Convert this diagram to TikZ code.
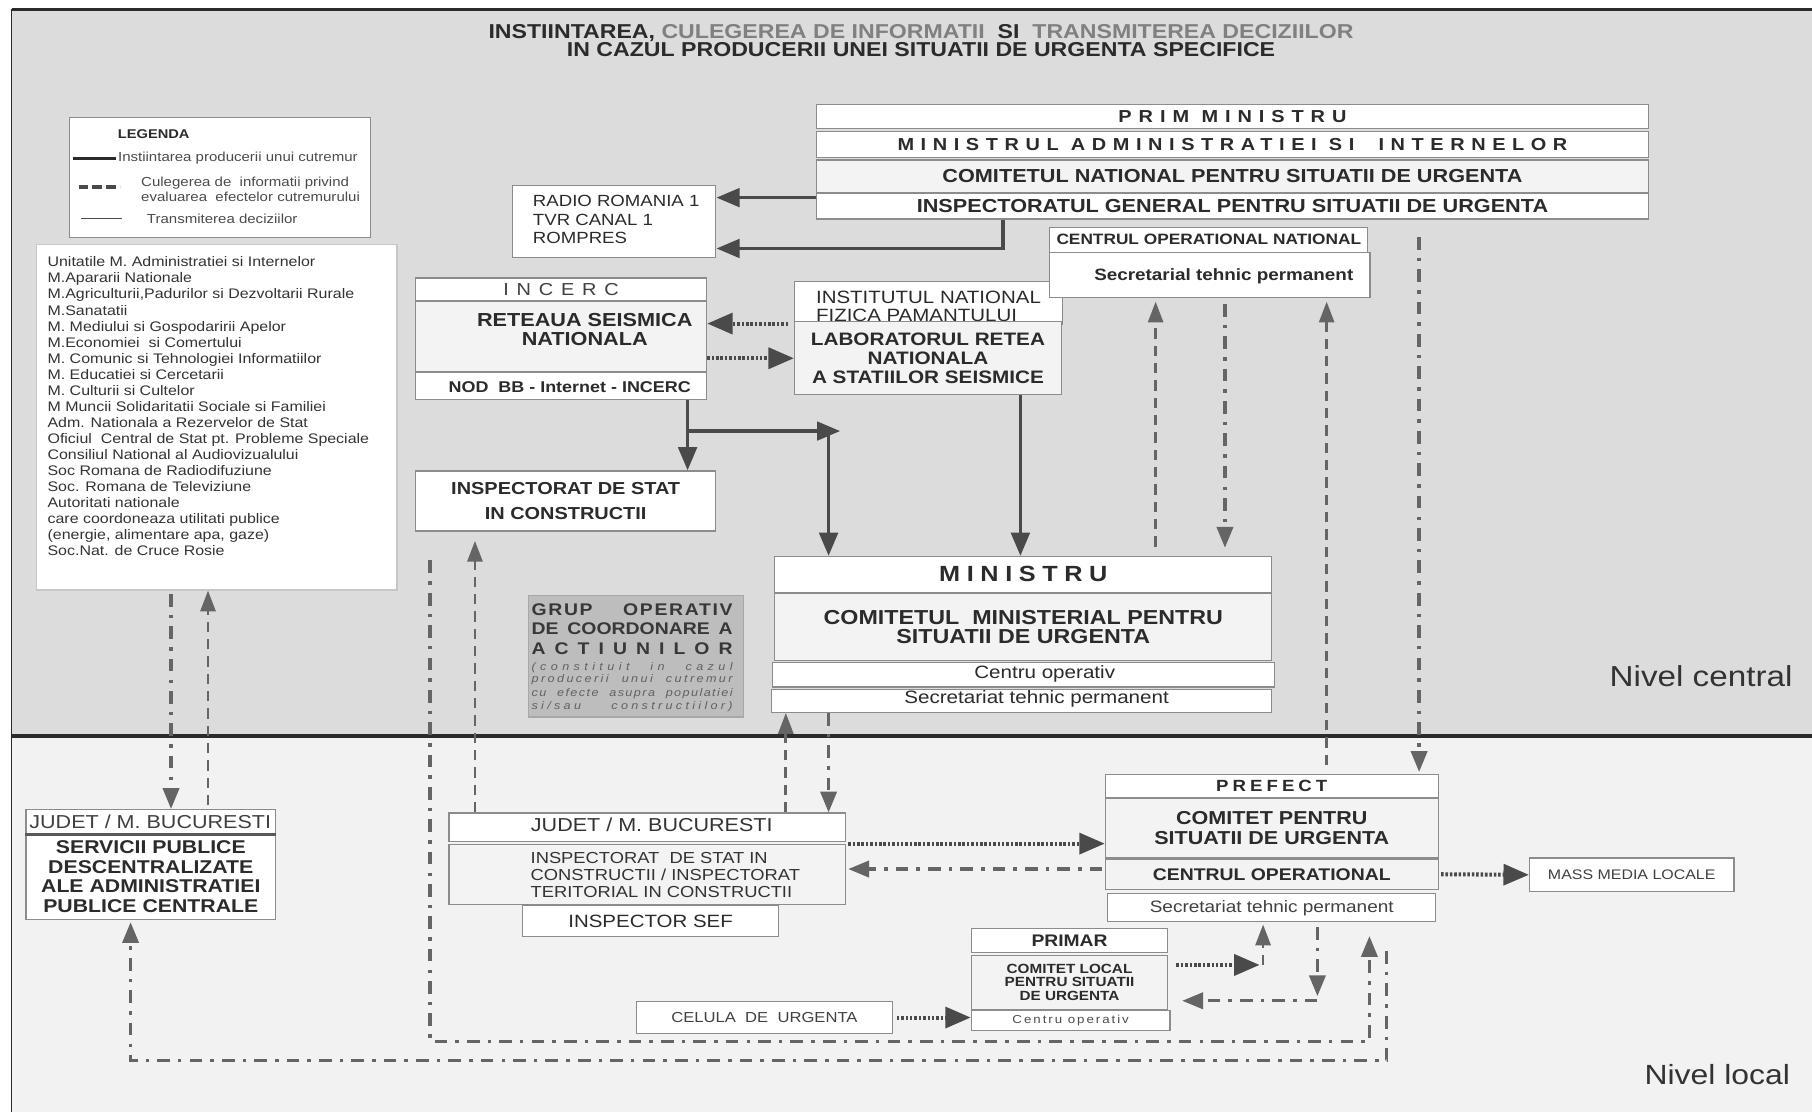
\documentclass[tikz,border=0pt]{standalone}
\usepackage{fontspec}
\setmainfont{Liberation Sans}[FakeStretch=1.15]
\usetikzlibrary{arrows.meta,calc}
\definecolor{bgtop}{HTML}{DCDCDC}
\definecolor{bgbot}{HTML}{F2F2F2}
\definecolor{txt}{HTML}{2B2B2B}
\definecolor{txtgray}{HTML}{808080}
\definecolor{bord}{HTML}{8C8C8C}
\definecolor{lightfill}{HTML}{F3F3F3}
\definecolor{arr}{HTML}{4A4A4A}
\definecolor{grupfill}{HTML}{BDBDBD}
\definecolor{grupbord}{HTML}{A8A8A8}
\newcommand{\fsz}[2]{\fontsize{#1}{#2}\selectfont}
\newcommand{\lspc}[1]{\addfontfeature{LetterSpace=#1}}
\begin{document}
\begin{tikzpicture}[x=1pt,y=-1pt,
  cell/.style={draw=bord, line width=1pt, fill=white, inner sep=0pt, anchor=north west, text=txt},
  lcell/.style={cell, fill=lightfill},
  sz/.style 2 args={minimum width=#1pt, minimum height=#2pt},
  txtnode/.style={inner sep=0pt, text=txt},
  solidarr/.style={draw=arr, line width=3pt, -{Triangle[length=20pt,width=16pt]}},
  dasharr/.style={draw=arr!85, line width=2.4pt, dash pattern=on 9pt off 6pt, -{Triangle[length=18pt,width=13pt]}},
  ddarr/.style={draw=arr!85, line width=2.8pt, dash pattern=on 11pt off 7pt on 3pt off 7pt, -{Triangle[length=18pt,width=14pt]}},
  dotarr/.style={draw=arr, line width=3.5pt, dash pattern=on 2.2pt off 1.6pt, -{Triangle[length=22pt,width=18pt]}}
]
\useasboundingbox (0,0) rectangle (1568,962);
\fill[white] (0,0) rectangle (1568,962);
% panels
\fill[bgtop] (10,8) rectangle (1568,637);
\fill[bgbot] (10,637) rectangle (1568,962);
\draw[line width=2.5pt, txt] (10,8) -- (1568,8);
\draw[line width=1.5pt, txt] (10,8) -- (10,962);
\draw[line width=3pt, txt] (10,637) -- (1568,637);

% coordinates
\path (113,0) coordinate (X113) (148,0) coordinate (X148) (180,0) coordinate (X180)
      (372,0) coordinate (X372) (411,0) coordinate (X411) (595,0) coordinate (X595)
      (680,0) coordinate (X680) (717,0) coordinate (X717) (727,0) coordinate (X727)
      (868,0) coordinate (X868) (883,0) coordinate (X883) (1000,0) coordinate (X1000)
      (1060,0) coordinate (X1060) (1090,0) coordinate (X1090) (1093,0) coordinate (X1093)
      (1140,0) coordinate (X1140) (1148,0) coordinate (X1148) (1185,0) coordinate (X1185)
      (1200,0) coordinate (X1200) (1228,0) coordinate (X1228);
\path (0,171) coordinate (Y171) (0,215) coordinate (Y215) (0,280) coordinate (Y280)
      (0,310) coordinate (Y310) (0,373) coordinate (Y373) (0,752) coordinate (Y752)
      (0,835) coordinate (Y835) (0,862) coordinate (Y862) (0,866) coordinate (Y866)
      (0,901) coordinate (Y901) (0,918) coordinate (Y918);

% title
\node[txtnode, font=\bfseries\fsz{17.4}{16}, align=center] (title) at (797,35)
  {INSTIINTAREA, \textcolor{txtgray}{CULEGEREA DE INFORMATII}\ \ SI\ \ \textcolor{txtgray}{TRANSMITEREA DECIZIILOR}\\IN CAZUL PRODUCERII UNEI SITUATII DE URGENTA SPECIFICE};

% legend
\node[cell, sz={260}{104}] (leg) at (60,101) {};
\node[txtnode, font=\bfseries\fsz{11}{13}] (legt) at (133,116) {LEGENDA};
\begin{scope}
\clip (leg.south west) rectangle (leg.north east);
\draw[line width=3pt, txt] (63,137) -- (100,137);
\node[txtnode, anchor=west, font=\fsz{11.3}{13}, text=txt!85] (leg1) at (102,137) {Instiintarea producerii unui cutremur};
\draw[line width=3pt, arr, dash pattern=on 8pt off 4pt] (68,162) -- (104,162);
\node[txtnode, anchor=west, align=left, font=\fsz{11.3}{12.5}, text=txt!85] (leg2) at (122,164) {Culegerea de\ \ informatii privind\\evaluarea\ \ efectelor cutremurului};
\draw[line width=1.2pt, arr] (70,189) -- (106,189);
\node[txtnode, anchor=west, font=\fsz{11.3}{13}, text=txt!85] (leg3) at (127,189) {Transmiterea deciziilor};
\end{scope}

% left list
\node[cell, draw=black!22, sz={312}{299}] (list) at (31,211) {};
\node[txtnode, anchor=north west, align=left, font=\fsz{12}{13.9}, text=black!80] (listt) at (41,222)
 {Unitatile M. Administratiei si Internelor\\
  M.Apararii Nationale\\
  M.Agriculturii,Padurilor si Dezvoltarii Rurale\\
  M.Sanatatii\\
  M. Mediului si Gospodaririi Apelor\\
  M.Economiei\ \ si Comertului\\
  M. Comunic si Tehnologiei Informatiilor\\
  M. Educatiei si Cercetarii\\
  M. Culturii si Cultelor\\
  M Muncii Solidaritatii Sociale si Familiei\\
  Adm. Nationala a Rezervelor de Stat\\
  Oficiul\ \ Central de Stat pt. Probleme Speciale\\
  Consiliul National al Audiovizualului\\
  Soc Romana de Radiodifuziune\\
  Soc. Romana de Televiziune\\
  Autoritati nationale\\
  care coordoneaza utilitati publice\\
  (energie, alimentare apa, gaze)\\
  Soc.Nat. de Cruce Rosie};

% top stack
\node[cell, sz={720}{21}, font=\bfseries\fsz{15}{17}\lspc{40}] (pm) at (706,90) {PRIM MINISTRU};
\node[cell, sz={720}{23}, font=\bfseries\fsz{15}{17}\lspc{38}] (mai) at (706,113) {MINISTRUL ADMINISTRATIEI SI\ \ INTERNELOR};
\node[lcell, sz={720}{28}, font=\bfseries\fsz{16.3}{18}] (cnsu) at (706,138) {COMITETUL NATIONAL PENTRU SITUATII DE URGENTA};
\node[cell, sz={720}{22}, font=\bfseries\fsz{16.3}{18}] (igsu) at (706,167) {INSPECTORATUL GENERAL PENTRU SITUATII DE URGENTA};

% radio
\node[cell, sz={176}{62}] (radio) at (443,160) {};
\node[txtnode, anchor=west, align=left, font=\fsz{14}{16}] (radiot) at (461,190) {RADIO ROMANIA 1\\TVR CANAL 1\\ROMPRES};

% institut + laborator
\node[cell, sz={232}{37}] (infp) at (687,243) {};
\node[txtnode, anchor=north west, align=left, font=\fsz{15.4}{16}] (infpt) at (706,251.5) {INSTITUTUL NATIONAL\\FIZICA PAMANTULUI};
\node[lcell, sz={231}{63}, align=center, font=\bfseries\fsz{15.6}{16.5}] (lab) at (687,278) {LABORATORUL RETEA\\NATIONALA\\A STATIILOR SEISMICE};

% centrul operational national
\node[cell, sz={275}{22}, font=\bfseries\fsz{13}{15}] (con) at (908,196) {CENTRUL OPERATIONAL NATIONAL};
\node[cell, sz={277}{39}] (stp) at (908,218) {};
\node[txtnode, font=\bfseries\fsz{14.2}{16}] (stpt) at (1059,239) {Secretarial tehnic permanent};

% INCERC
\node[cell, sz={252}{20}, font=\fsz{15}{17}\lspc{45}, text=black!75] (inch) at (359,240) {INCERC};
\node[lcell, sz={252}{61}] (incm) at (359,260) {};
\node[txtnode, align=center, font=\bfseries\fsz{16.3}{17}] (incmt) at (506,285) {RETEAUA SEISMICA\\NATIONALA};
\node[cell, sz={252}{23}] (incb) at (359,322) {};
\node[txtnode, font=\bfseries\fsz{13.5}{15}] (incbt) at (493,335) {NOD\ \ BB - Internet - INCERC};

% inspectorat de stat
\node[cell, sz={260}{52}, align=center, font=\bfseries\fsz{15}{21}] (insp) at (359,407) {INSPECTORAT DE STAT\\IN CONSTRUCTII};

% grup operativ
\node[cell, draw=grupbord, fill=grupfill, sz={186}{105}] (grup) at (457,515) {};
\node[txtnode, anchor=base, font=\bfseries\fsz{14.6}{16}\lspc{10}, text=black!78] (g1) at (547,533) {\makebox[174pt][s]{GRUP OPERATIV}};
\node[txtnode, anchor=base, font=\bfseries\fsz{14.6}{16}, text=black!78] (g2) at (547,549) {\makebox[174pt][s]{DE COORDONARE A}};
\node[txtnode, anchor=base, font=\bfseries\fsz{14.6}{16}, text=black!78] (g3) at (547,566) {\makebox[174pt][s]{A C T I U N I L O R}};
\node[txtnode, anchor=base, font=\itshape\fsz{9.5}{11}\lspc{40}, text=black!62] (g4) at (547,580) {\makebox[174pt][s]{(constituit in cazul}};
\node[txtnode, anchor=base, font=\itshape\fsz{9.5}{11}\lspc{22}, text=black!62] (g5) at (547,591) {\makebox[174pt][s]{producerii unui cutremur}};
\node[txtnode, anchor=base, font=\itshape\fsz{9.5}{11}\lspc{13}, text=black!62] (g6) at (547,603) {\makebox[174pt][s]{cu efecte asupra populatiei}};
\node[txtnode, anchor=base, font=\itshape\fsz{9.5}{11}\lspc{30}, text=black!62] (g7) at (547,614) {\makebox[174pt][s]{si/sau constructiilor)}};

% ministru stack
\node[cell, sz={430}{31}, font=\bfseries\fsz{19}{21}\lspc{30}] (minh) at (670,481) {MINISTRU};
\node[lcell, sz={430}{58}, align=center, font=\bfseries\fsz{17.5}{17}] (minc) at (670,513) {COMITETUL\ \ MINISTERIAL PENTRU\\SITUATII DE URGENTA};
\node[cell, sz={434}{21}] (mco) at (668,573) {};
\node[txtnode, font=\fsz{15.5}{17}] (mcot) at (904,583) {Centru operativ};
\node[cell, sz={433}{20}] (msec) at (667,596) {};
\node[txtnode, font=\fsz{15.5}{17}] (msect) at (897,605) {Secretariat tehnic permanent};

% left judet
\node[cell, sz={216}{21}] (lj) at (22,700) {};
\node[txtnode, font=\fsz{16.2}{18}, text=black!75] (ljt) at (130,711) {JUDET / M. BUCURESTI};
\node[cell, sz={216}{74}, align=center, font=\bfseries\fsz{16}{17}] (ljb) at (22,721) {SERVICII PUBLICE\\DESCENTRALIZATE\\ALE ADMINISTRATIEI\\PUBLICE CENTRALE};
\draw[line width=2pt, black!65] (lj.south west) -- (lj.south east);

% middle judet
\node[cell, sz={343}{25}] (jh) at (388,703) {};
\node[txtnode, font=\fsz{16.2}{18}, text=black!80] (jht) at (564,714) {JUDET / M. BUCURESTI};
\node[lcell, sz={343}{52}] (jb) at (388,730) {};
\node[txtnode, anchor=west, align=left, font=\fsz{13.8}{14.5}, text=black!80] (jbt) at (459,757) {INSPECTORAT\ \ DE STAT IN\\CONSTRUCTII / INSPECTORAT\\TERITORIAL IN CONSTRUCTII};
\node[cell, sz={221}{27}, font=\fsz{15.4}{17}] (jsef) at (452,783) {INSPECTOR SEF};

% prefect
\node[cell, sz={288}{20}, font=\bfseries\fsz{14}{16}\lspc{25}] (ph) at (956,670) {PREFECT};
\node[lcell, sz={288}{52}, align=center, font=\bfseries\fsz{16.2}{17}] (pc) at (956,690) {COMITET PENTRU\\SITUATII DE URGENTA};
\node[lcell, sz={288}{26}, font=\bfseries\fsz{14.6}{16}] (pco) at (956,743) {CENTRUL OPERATIONAL};
\node[cell, sz={284}{24}, font=\fsz{14.3}{16}, text=black!75] (psec) at (958,773) {Secretariat tehnic permanent};

% mass media
\node[cell, sz={177}{29}, font=\fsz{12}{14}, text=black!75] (mm) at (1323,742) {MASS MEDIA LOCALE};

% primar
\node[cell, sz={170}{21}, font=\bfseries\fsz{14.5}{16}] (prh) at (840,803) {PRIMAR};
\node[lcell, sz={170}{47}, align=center, font=\bfseries\fsz{11.5}{11.5}] (prc) at (840,826) {COMITET LOCAL\\PENTRU SITUATII\\DE URGENTA};
\node[cell, sz={172}{17}, font=\fsz{10}{12}\lspc{17}, text=black!70] (prco) at (840,874) {Centru operativ};
\node[cell, sz={222}{28}, font=\fsz{12.5}{14}, text=black!75] (cel) at (550,866) {CELULA\ \ DE\ \ URGENTA};

% level labels
\node[txtnode, font=\fsz{25}{27}, text=black!80] (nc) at (1472,585) {Nivel central};
\node[txtnode, font=\fsz{24}{26}, text=black!80] (nl) at (1486,930) {Nivel local};

% ---- connectors ----
\draw[solidarr] (igsu.west |- Y171) -- (radio.east |- Y171);
\draw[solidarr] (igsu.south -| X868) -- (X868 |- Y215) -- (radio.east |- Y215);
\draw[dotarr, shorten <=5pt] (lab.west |- Y280) -- (incm.east |- Y280);
\draw[dotarr] (incm.east |- Y310) -- (lab.west |- Y310);
\draw[solidarr] (incb.south -| X595) -- (insp.north -| X595);
\draw[solidarr] (X595 |- Y373) -- (X727 |- Y373);
\draw[solidarr] (X717 |- Y373) -- (minh.north -| X717);
\draw[solidarr] (lab.south -| X883) -- (minh.north -| X883);
\draw[dasharr, shorten <=8pt, shorten >=3pt] (minh.north -| X1000) -- (stp.south -| X1000);
\draw[ddarr, shorten <=5pt, shorten >=7pt] (stp.south -| X1060) -- (minh.north -| X1060);
\draw[dasharr, shorten <=8pt, shorten >=3pt] (ph.north -| X1148) -- (stp.south -| X1148);
\draw[ddarr, shorten <=15pt, shorten >=2pt] (igsu.south -| X1228) -- (ph.north -| X1228);
\draw[dasharr] (jh.north -| X680) -- (msec.south -| X680);
\draw[ddarr] (msec.south -| X717) -- (jh.north -| X717);
\draw[ddarr, shorten <=3pt] (list.south -| X148) -- (lj.north -| X148);
\draw[dasharr, shorten <=3pt] (lj.north -| X180) -- (list.south -| X180);
\draw[dasharr, shorten >=8pt] (jh.north -| X411) -- (insp.south -| X411);
\draw[ddarr, shorten <=25pt, shorten >=12pt] (insp.south -| X372) -- (X372 |- Y901) -- (X1185 |- Y901) -- (psec.south -| X1185);
\draw[ddarr, shorten <=25pt, shorten >=2pt] (psec.south -| X1200) -- (X1200 |- Y918) -- (X113 |- Y918) -- (ljb.south -| X113);
\draw[dotarr, shorten <=2pt] (jb.north east) -- (pc.west |- jb.north east);
\draw[ddarr, shorten <=2pt, shorten >=2pt] (pco.west |- Y752) -- (jb.east |- Y752);
\draw[dotarr, shorten <=2pt] (pco.east) -- (mm.west);
\draw[dotarr, shorten <=3pt] (cel.east) -- (prco.west |- cel.east);
\draw[dotarr, shorten <=7pt] (prc.east |- Y835) -- (X1090 |- Y835);
\draw[dasharr, shorten >=2pt] (X1093 |- Y835) -- (psec.south -| X1093);
\draw[ddarr, shorten <=4pt] (psec.south -| X1140) -- (X1140 |- Y862);
\draw[ddarr, shorten >=12pt] (X1140 |- Y866) -- (prc.east |- Y866);
\end{tikzpicture}
\end{document}
